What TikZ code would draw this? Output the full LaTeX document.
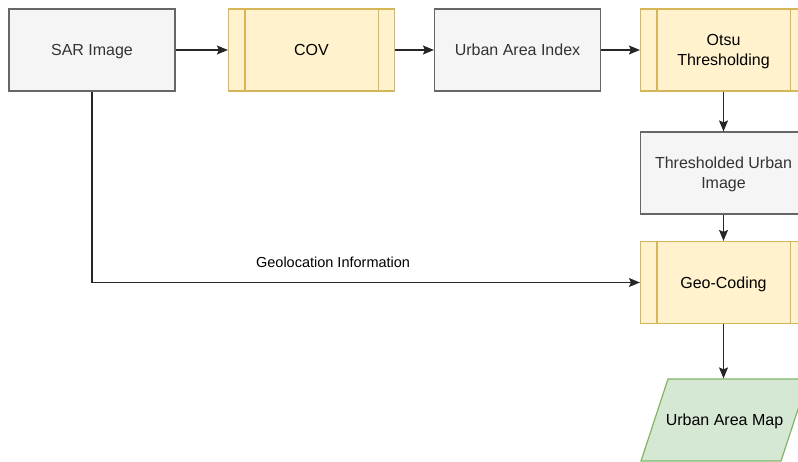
\documentclass[tikz,border=0pt]{standalone}
\usepackage{fontspec}
\setmainfont{Liberation Sans}
\usetikzlibrary{arrows.meta}
\definecolor{grayfill}{HTML}{F5F5F5}
\definecolor{graydraw}{HTML}{666666}
\definecolor{grytext}{HTML}{333333}
\definecolor{ylwfill}{HTML}{FFF2CC}
\definecolor{ylwdraw}{HTML}{D6B656}
\definecolor{grnfill}{HTML}{D5E8D4}
\definecolor{grndraw}{HTML}{82B366}
\tikzset{
  box/.style={rectangle,minimum width=166pt,minimum height=82pt,inner sep=0pt,align=center,line width=1.2pt,
    text depth=0pt,font=\fontsize{16}{20}\selectfont},
  graybox/.style={box,fill=grayfill,draw=graydraw,text=grytext},
  procbox/.style={box,fill=ylwfill,draw=ylwdraw,text=black},
  outbox/.style={box,text=black},
  flow/.style={-{Stealth[length=11pt,width=9pt,inset=2pt]},line width=1.2pt,color=black!85}
}
\begin{document}
\begin{tikzpicture}[x=1pt,y=-1pt]
	\useasboundingbox (0,0) rectangle (798,462);
	% top row
	\node[graybox] (sar) at (92,50) {SAR Image};
	\node[procbox] (cov) at (311.5,50) {COV};
	\node[graybox] (uai) at (517.5,50) {Urban Area Index};
	\node[procbox] (otsu) at (723.5,50) {Otsu\\Thresholding};
	% right column
	\node[graybox] (thr) at (723.5,173) {Thresholded Urban\\Image};
	\node[procbox] (geo) at (723.5,282.5) {Geo-Coding};
	\foreach \n in {cov,otsu,geo} {
		\draw[ylwdraw,line width=1.2pt] ([xshift=17pt]\n.north west) -- ([xshift=17pt]\n.south west);
		\draw[ylwdraw,line width=1.2pt] ([xshift=-17pt]\n.north east) -- ([xshift=-17pt]\n.south east);}
	% output parallelogram
	\draw[fill=grnfill,draw=grndraw,line width=1.2pt] (641,461) -- (668,379) -- (808,379) -- (781,461) -- cycle;
	\node[outbox] (map) at (724.5,420) {Urban Area Map};

	\draw[flow] (sar) -- (cov);
	\draw[flow] (cov) -- (uai);
	\draw[flow] (uai) -- (otsu);
	\draw[flow] (otsu) -- (thr);
	\draw[flow] (thr) -- (geo);
	\draw[flow] (geo.south) -- (geo.south |- map.north);
	\draw[flow] (sar.south) |- (geo.west)
		node[pos=0.72,yshift=20pt,font=\fontsize{14.5}{18}\selectfont,text=black] {Geolocation Information};
\end{tikzpicture}
\end{document}
